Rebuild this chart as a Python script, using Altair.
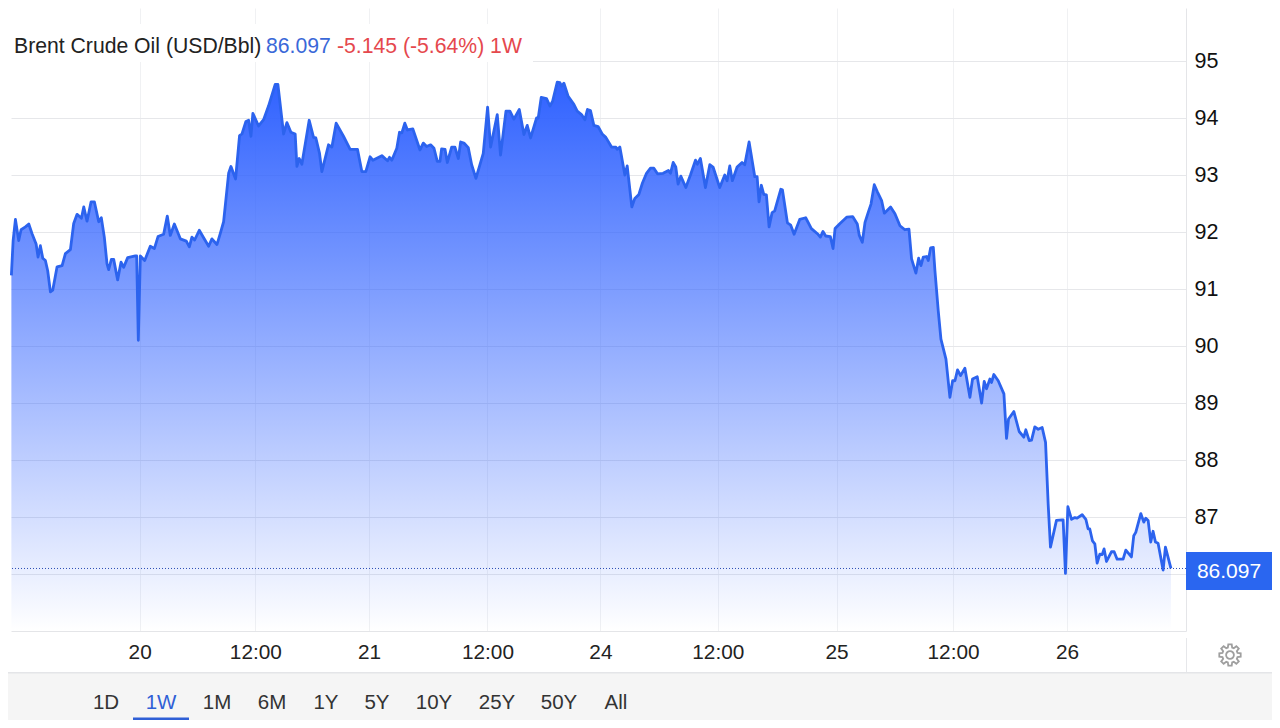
import math
import altair as alt
import pandas as pd

# ---- data (hours of trading time relative to the "20" tick, price USD/Bbl) ----
hours = [
-13.28,-13.10,-12.86,-12.69,-12.52,-12.28,-11.83,-11.48,-11.14,-10.72,-10.52,-10.28,-10.03,-9.76,-9.52,-9.24,-9.00,-8.55,-8.03,-7.69,
-7.17,-6.83,-6.48,-6.03,-5.79,-5.45,-5.03,-4.69,-4.24,-3.97,-3.66,-3.38,-3.21,-2.93,-2.69,-2.28,-1.93,-1.66,-1.24,-0.45,
-0.31,-0.14,0.07,0.52,1.10,1.52,1.90,2.48,2.86,3.17,3.59,4.21,4.83,5.14,5.41,5.69,6.17,6.62,7.14,7.48,
8.00,8.34,8.69,9.21,9.45,9.93,10.34,10.59,11.00,11.28,11.52,11.72,12.31,12.83,13.34,14.03,14.31,14.90,15.24,15.66,
16.10,16.28,16.52,16.79,17.55,18.00,18.24,18.62,18.86,19.55,19.90,20.34,21.10,21.79,22.55,23.00,23.41,23.86,24.14,25.07,
25.66,25.86,26.10,26.62,26.90,27.14,27.45,27.72,28.28,29.02,29.36,29.71,30.12,30.47,30.81,31.09,31.26,31.61,31.85,32.30,
32.64,32.99,33.23,33.57,34.02,34.37,34.81,35.57,36.02,36.33,37.02,37.36,37.92,38.33,38.74,39.30,39.78,40.12,40.47,41.09,
41.26,41.57,42.12,42.47,42.74,43.23,43.50,43.67,43.92,44.36,44.95,45.30,45.74,46.09,46.36,46.67,47.02,47.47,47.88,48.26,
48.85,49.30,49.43,49.71,50.23,50.47,50.95,51.26,51.68,52.05,52.47,52.88,53.23,53.61,54.19,54.74,54.95,55.23,55.50,55.74,
56.02,56.54,57.02,57.54,57.74,58.05,58.57,59.02,59.36,60.05,60.57,60.81,61.09,61.36,61.85,62.36,62.64,63.09,63.68,63.92,
64.12,64.36,64.61,64.88,65.16,65.47,65.74,66.37,66.54,67.06,67.40,67.75,68.33,68.95,69.54,70.23,70.47,70.74,71.02,71.50,
71.78,71.99,72.50,73.19,73.81,74.29,74.50,74.81,75.09,75.43,75.71,76.05,76.36,76.81,77.09,77.74,78.19,78.71,79.22,79.64,
79.91,80.36,80.64,80.88,81.12,81.47,81.64,81.88,82.16,82.33,82.67,82.95,83.47,83.88,84.16,84.40,84.67,84.98,85.43,85.95,
86.22,86.71,87.16,87.43,87.67,88.02,88.19,88.43,88.88,89.47,89.74,89.95,90.50,91.05,91.53,91.74,92.09,92.33,92.67,93.02,
93.43,93.78,94.05,94.29,94.91,95.50,95.60,95.84,96.09,96.47,96.81,97.05,97.57,97.95,98.19,98.36,98.64,98.88,99.12,99.40,
99.64,99.84,100.09,100.60,100.88,101.19,101.81,102.09,102.67,102.91,103.12,103.64,103.95,104.16,104.40,104.67,104.91,105.16,105.43,105.95,
106.19,106.76]
prices = [
91.24,91.85,92.22,92.03,91.85,92.04,92.09,92.14,91.97,91.79,91.56,91.76,91.54,91.50,91.32,90.95,90.98,91.39,91.41,91.62,
91.69,92.15,92.31,92.24,92.44,92.19,92.53,92.53,92.18,92.25,91.91,91.44,91.34,91.52,91.52,91.16,91.47,91.38,91.55,91.58,
91.58,90.10,91.58,91.50,91.75,91.71,91.92,91.96,92.28,91.94,92.14,91.88,91.84,91.74,91.91,91.86,92.03,91.90,91.75,91.88,
91.78,91.97,92.18,93.03,93.15,92.93,93.69,93.72,93.94,93.96,93.68,94.08,93.86,93.97,94.21,94.59,94.59,93.72,93.92,93.75,
93.72,93.15,93.29,93.19,93.96,93.66,93.65,93.38,93.06,93.53,93.49,93.91,93.68,93.45,93.45,93.06,93.06,93.32,93.26,93.34,
93.25,93.31,93.26,93.47,93.75,93.74,93.91,93.79,93.81,93.44,93.56,93.50,93.53,93.47,93.24,93.24,93.46,93.45,93.22,93.49,
93.49,93.29,93.58,93.56,93.48,93.18,92.94,93.38,94.19,93.49,94.06,93.35,94.12,94.12,93.98,94.15,93.71,93.87,93.65,94.00,
94.00,94.36,94.34,94.21,94.29,94.63,94.62,94.56,94.61,94.38,94.24,94.12,94.06,93.97,94.15,94.13,93.87,93.85,93.72,93.66,
93.49,93.49,93.45,93.49,93.00,93.16,92.44,92.59,92.66,92.86,93.03,93.12,93.12,93.02,93.03,93.08,93.03,93.22,93.14,92.84,
92.98,92.78,93.00,93.26,93.19,93.29,92.78,93.18,93.14,92.78,93.00,92.90,93.16,92.90,93.14,93.22,93.18,93.58,92.97,92.97,
92.53,92.82,92.66,92.65,92.09,92.34,92.37,92.75,92.74,92.16,92.12,91.96,92.22,92.25,92.06,91.96,91.91,92.01,91.93,91.92,
91.71,92.06,92.15,92.26,92.27,92.14,91.94,91.82,92.17,92.35,92.49,92.83,92.71,92.55,92.33,92.44,92.32,92.11,92.04,92.05,
91.53,91.28,91.54,91.41,91.56,91.57,91.50,91.72,91.73,91.32,90.62,90.12,89.77,89.10,89.39,89.39,89.58,89.48,89.61,89.10,
89.42,89.46,89.00,89.38,89.25,89.42,89.36,89.50,89.39,89.16,88.38,88.72,88.85,88.50,88.40,88.53,88.34,88.35,88.58,88.54,
88.57,88.31,87.23,86.47,86.94,86.95,86.95,86.01,87.18,86.96,86.99,86.98,87.04,86.96,86.79,86.79,86.58,86.53,86.19,86.35,
86.34,86.44,86.22,86.39,86.39,86.26,86.26,86.42,86.30,86.67,86.73,87.06,86.91,86.98,86.94,86.56,86.75,86.56,86.54,86.07,
86.47,86.097]
x_tick_hours = [0, 11.98, 23.74, 36.0, 47.7, 59.85, 72.15, 84.2, 96.0]
x_tick_labels = ["20", "12:00", "21", "12:00", "24", "12:00", "25", "12:00", "26"]
y_ticks = [86, 87, 88, 89, 90, 91, 92, 93, 94, 95]
last_price = 86.097
title_main = "Brent Crude Oil (USD/Bbl)"
title_last = "86.097"
title_change = "-5.145 (-5.64%) 1W"
range_labels = ["1D", "1W", "1M", "6M", "1Y", "5Y", "10Y", "25Y", "50Y", "All"]

# ---- layout (page pixels) ----
FONT = "Liberation Sans"
PLOT_LEFT, PLOT_TOP = 11, 8
PLOT_W, PLOT_H = 1175, 623
range_centres = [106, 161, 217, 272, 326, 377, 434, 497, 559, 616]
def px(v): return v - PLOT_LEFT
def py(v): return v - PLOT_TOP

df = pd.DataFrame({"hour": hours, "price": prices})
one = pd.DataFrame({"a": [0]})
x_scale = alt.Scale(domain=[-13.32, 108.32], nice=False, zero=False)
y_scale = alt.Scale(domain=[85, 95.93], nice=False, zero=False)

label_expr = "{" + ",".join(f"'{v:g}':'{l}'" for v, l in zip(x_tick_hours, x_tick_labels)) + "}[''+datum.value]"
x_axis = alt.Axis(values=x_tick_hours, labelExpr=label_expr, title=None, grid=True, gridColor="#f0f1f3",
                  ticks=False, domainColor="#e4e5e8", labelColor="#222222", labelFont=FONT, labelFontSize=20.8,
                  labelPadding=11, labelOverlap=False, labelFlush=False)
y_axis = alt.Axis(values=y_ticks, format="d", labelExpr="datum.value==86?'':datum.label", orient="right", title=None, grid=True,
                  gridColor="#e6e7ea", ticks=False, domainColor="#e4e5e8", labelColor="#111111", labelFont=FONT,
                  labelFontSize=21.5, labelPadding=8, labelOverlap=False)

gradient = alt.Gradient(gradient="linear", x1=0, y1=0, x2=0, y2=1, stops=[
    alt.GradientStop(color="rgba(48,98,255,1)", offset=0),
    alt.GradientStop(color="rgba(48,98,255,0.5)", offset=0.5),
    alt.GradientStop(color="rgba(48,98,255,0)", offset=1),
])

area = alt.Chart(df).mark_area(color=gradient, interpolate="linear").encode(
    x=alt.X("hour:Q", scale=x_scale, axis=x_axis),
    y=alt.Y("price:Q", scale=y_scale, axis=y_axis),
    y2=alt.datum(85),
)
line = alt.Chart(df).mark_line(color="#2c63ee", strokeWidth=2.8, strokeJoin="round").encode(
    x=alt.X("hour:Q", scale=x_scale), y=alt.Y("price:Q", scale=y_scale))
last_rule = alt.Chart(pd.DataFrame({"p": [last_price]})).mark_rule(
    color="#2b4db5", strokeWidth=1, strokeDash=[1, 2]).encode(y=alt.Y("p:Q", scale=y_scale))

def box(x1, x2, y1, y2, color):
    return alt.Chart(one).mark_rect(color=color).encode(
        x=alt.value(px(x1)), x2=alt.value(px(x2)), y=alt.value(py(y1)), y2=alt.value(py(y2)))

def label(text, x, y, color, size=20, align="left"):
    return alt.Chart(one).mark_text(text=text, font=FONT, fontSize=size, color=color, align=align,
                                    baseline="middle").encode(x=alt.value(px(x)), y=alt.value(py(y)))

# gear icon path
pts = []
for i in range(8):
    a = i * math.pi / 4
    for da, r in [(-0.28, 0.72), (-0.16, 1.0), (0.16, 1.0), (0.28, 0.72)]:
        pts.append((r * math.cos(a + da), r * math.sin(a + da)))
gear_path = "M" + "L".join(f"{x:.3f},{y:.3f}" for x, y in pts) + "Z"
gear_path += " M0.36,0 A0.36,0.36 0 1,0 -0.36,0 A0.36,0.36 0 1,0 0.36,0 Z"
gear = alt.Chart(one).mark_point(shape=gear_path, size=470, filled=False, stroke="#777777", strokeWidth=1.8).encode(
    x=alt.value(px(1230)), y=alt.value(py(655)))

layers = [
    box(8, 533, 24, 62, "#ffffff"),
    area, line, last_rule,
    box(1186, 1272, 552, 590, "#2a66f0"),
    label(title_last, 1229, 572, "#ffffff", 21, "center"),
    label(title_main, 14, 47, "#222222", 21.2),
    label(title_last, 266, 47, "#3a68d8", 21.2),
    label(title_change, 337, 47, "#e5484d", 21.2),
    box(1186, 1187, 638, 672, "#e6e7ea"),
    gear,
    box(8, 1272, 673, 720, "#f5f5f5"),
    box(8, 1272, 672, 673.5, "#e4e5e8"),
    box(133, 189, 717.5, 720, "#2f5fd6"),
]
for t, c in zip(range_labels, range_centres):
    layers.append(label(t, c, 703, "#2f5fd6" if t == "1W" else "#333333", 20.5, "center"))

chart = alt.layer(*layers).properties(
    width=PLOT_W, height=PLOT_H,
    padding={"left": 3, "top": 0, "right": 86, "bottom": 89},
    autosize=alt.AutoSizeParams(type="none"),
    background="#ffffff",
).configure_view(stroke=None)

chart.save("out.html", embed_options={"renderer": "svg", "actions": False})
